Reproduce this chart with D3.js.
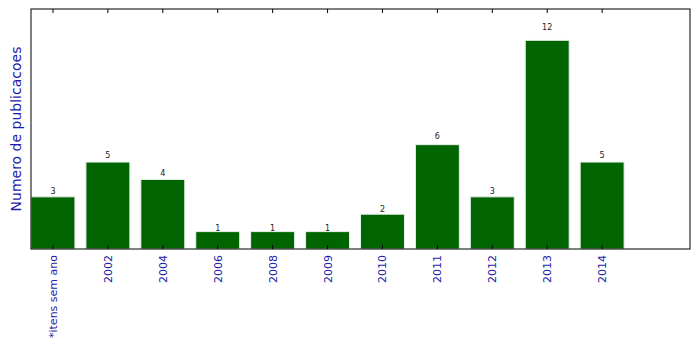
<!DOCTYPE html>
<html><head><meta charset="utf-8">
<script src="https://cdn.jsdelivr.net/npm/d3@7"></script>
<style>body{margin:0;background:#fff}svg{display:block}</style>
</head><body>
<script>
const categories = ["*itens sem ano","2002","2004","2006","2008","2009","2010","2011","2012","2013","2014"];
const values = [3,5,4,1,1,1,2,6,3,12,5];
const yLabel = "Numero de publicacoes";

const W = 699, H = 348;
const m = {left:31, top:9, right:699-690, bottom:348-249};
const iw = W - m.left - m.right, ih = H - m.top - m.bottom;

const svg = d3.select("body").append("svg").attr("width", W).attr("height", H);
const g = svg.append("g").attr("transform", `translate(${m.left},${m.top})`);

const x = d3.scaleLinear().domain([-0.4, categories.length + 0.6]).range([0, iw]);
const y = d3.scaleLinear().domain([0, d3.max(values) * 1.15]).range([ih, 0]);
const bw = x(0.8) - x(0);

g.selectAll("rect.bar").data(values).enter().append("rect")
  .attr("x", (d,i) => x(i - 0.4))
  .attr("y", d => y(d))
  .attr("width", bw)
  .attr("height", d => ih - y(d))
  .attr("fill", "#006400")
  .attr("stroke", "#e8f0e8")
  .attr("stroke-width", 1);

g.selectAll("text.val").data(values).enter().append("text")
  .attr("x", (d,i) => x(i))
  .attr("y", d => y(d * 1.05))
  .attr("text-anchor", "middle")
  .attr("font-family", "DejaVu Sans")
  .attr("font-size", 8)
  .attr("fill", "#222")
  .text(d => d);

// ticks top and bottom (inside)
const tickIdx = d3.range(categories.length);
g.selectAll("line.tb").data(tickIdx).enter().append("line")
  .attr("x1", i => x(i)).attr("x2", i => x(i))
  .attr("y1", ih).attr("y2", ih - 4).attr("stroke", "#000");
g.selectAll("line.tt").data(tickIdx).enter().append("line")
  .attr("x1", i => x(i)).attr("x2", i => x(i))
  .attr("y1", 0).attr("y2", 4).attr("stroke", "#000");

// tick labels rotated
g.selectAll("text.tl").data(categories).enter().append("text")
  .attr("transform", (d,i) => `translate(${x(i) + 4},${ih + 6}) rotate(-90)`)
  .attr("text-anchor", "end")
  .attr("font-family", "DejaVu Sans")
  .attr("font-size", 11)
  .attr("fill", "#1c1ca8")
  .text(d => d);

// frame
g.append("rect").attr("x", 0).attr("y", 0).attr("width", iw).attr("height", ih)
  .attr("fill", "none").attr("stroke", "#000").attr("stroke-width", 1);

// y label
svg.append("text")
  .attr("transform", `translate(${21},${m.top + ih/2}) rotate(-90)`)
  .attr("text-anchor", "middle")
  .attr("font-family", "DejaVu Sans")
  .attr("font-size", 14)
  .attr("fill", "#1c1ca8")
  .text(yLabel);
</script>
</body></html>
